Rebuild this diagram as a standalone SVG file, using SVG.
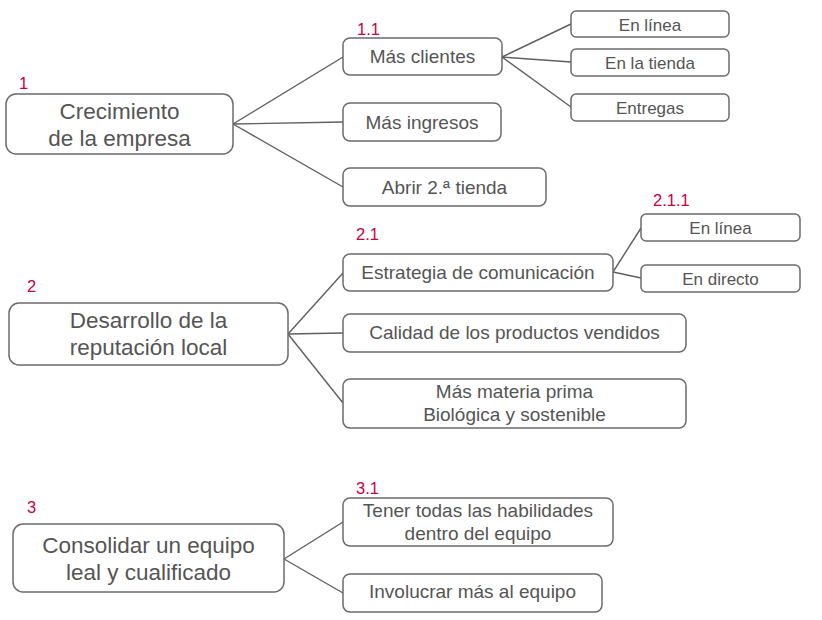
<svg xmlns="http://www.w3.org/2000/svg" width="822" height="620" viewBox="0 0 822 620">
<style>
.box{fill:#fff;stroke:#6b6b6b;stroke-width:1.5}
.t{font-family:"Liberation Sans",Arial,sans-serif;fill:#555;text-anchor:middle}
.big{font-size:22.5px}
.mid{font-size:19px}
.sm{font-size:17px}
.num{font-family:"Liberation Sans",Arial,sans-serif;font-size:16.5px;fill:#c8003f}
.c line{stroke:#5f5f5f;stroke-width:1.4}
</style>
<rect width="822" height="620" fill="#fff"/>
<g class="c" id="connectors">
<line x1="233" y1="124" x2="343" y2="57"/>
<line x1="233" y1="124" x2="343" y2="122"/>
<line x1="233" y1="124" x2="343" y2="187"/>
<line x1="502" y1="57" x2="571" y2="24"/>
<line x1="502" y1="57" x2="571" y2="62"/>
<line x1="502" y1="57" x2="571" y2="107"/>
<line x1="288" y1="334" x2="343" y2="273"/>
<line x1="288" y1="334" x2="343" y2="333"/>
<line x1="288" y1="334" x2="343" y2="403"/>
<line x1="613" y1="272" x2="641" y2="228"/>
<line x1="613" y1="272" x2="641" y2="278"/>
<line x1="284" y1="559" x2="343" y2="522"/>
<line x1="284" y1="559" x2="343" y2="593"/>
</g>
<g id="n1">
<text class="num" x="19" y="89">1</text>
<rect class="box" x="6" y="94" width="227" height="60" rx="10"/>
<text class="t big" x="119.5" y="119">Crecimiento</text>
<text class="t big" x="119.5" y="146">de la empresa</text>
</g>
<g id="n1-1">
<text class="num" x="357" y="35">1.1</text>
<rect class="box" x="343" y="38" width="159" height="37" rx="7"/>
<text class="t mid" x="422.5" y="63">Más clientes</text>
</g>
<g id="n1-2">
<rect class="box" x="343" y="103" width="158" height="38" rx="7"/>
<text class="t mid" x="422" y="129">Más ingresos</text>
</g>
<g id="n1-3">
<rect class="box" x="343" y="168" width="203" height="38" rx="7"/>
<text class="t mid" x="444.5" y="194">Abrir 2.ª tienda</text>
</g>
<g id="n1-1-1">
<rect class="box" x="571" y="11" width="158" height="26" rx="5"/>
<text class="t sm" x="650" y="30.5">En línea</text>
</g>
<g id="n1-1-2">
<rect class="box" x="571" y="49" width="158" height="27" rx="5"/>
<text class="t sm" x="650" y="69">En la tienda</text>
</g>
<g id="n1-1-3">
<rect class="box" x="571" y="94" width="158" height="27" rx="5"/>
<text class="t sm" x="650" y="113.5">Entregas</text>
</g>
<g id="n2">
<text class="num" x="27" y="292">2</text>
<rect class="box" x="9" y="303" width="279" height="62" rx="10"/>
<text class="t big" x="148.5" y="328">Desarrollo de la</text>
<text class="t big" x="148.5" y="355">reputación local</text>
</g>
<g id="n2-1">
<text class="num" x="356" y="240">2.1</text>
<rect class="box" x="343" y="254" width="270" height="37" rx="7"/>
<text class="t mid" x="478" y="278.5">Estrategia de comunicación</text>
</g>
<g id="n2-2">
<rect class="box" x="343" y="314" width="343" height="38" rx="7"/>
<text class="t mid" x="514.5" y="338.5">Calidad de los productos vendidos</text>
</g>
<g id="n2-3">
<rect class="box" x="343" y="379" width="343" height="49" rx="7"/>
<text class="t mid" x="514.5" y="397.5">Más materia prima</text>
<text class="t mid" x="514.5" y="421">Biológica y sostenible</text>
</g>
<g id="n2-1-1">
<text class="num" x="653" y="206">2.1.1</text>
<rect class="box" x="641" y="214" width="159" height="27" rx="5"/>
<text class="t sm" x="720.5" y="234">En línea</text>
</g>
<g id="n2-1-2">
<rect class="box" x="641" y="265" width="159" height="27" rx="5"/>
<text class="t sm" x="720.5" y="284.5">En directo</text>
</g>
<g id="n3">
<text class="num" x="27" y="513">3</text>
<rect class="box" x="13" y="524" width="271" height="68" rx="10"/>
<text class="t big" x="148.5" y="553">Consolidar un equipo</text>
<text class="t big" x="148.5" y="580">leal y cualificado</text>
</g>
<g id="n3-1">
<text class="num" x="356" y="494">3.1</text>
<rect class="box" x="343" y="498" width="270" height="48" rx="7"/>
<text class="t mid" x="478" y="517">Tener todas las habilidades</text>
<text class="t mid" x="478" y="540">dentro del equipo</text>
</g>
<g id="n3-2">
<rect class="box" x="343" y="574" width="259" height="38" rx="7"/>
<text class="t mid" x="472.5" y="598">Involucrar más al equipo</text>
</g>
</svg>
